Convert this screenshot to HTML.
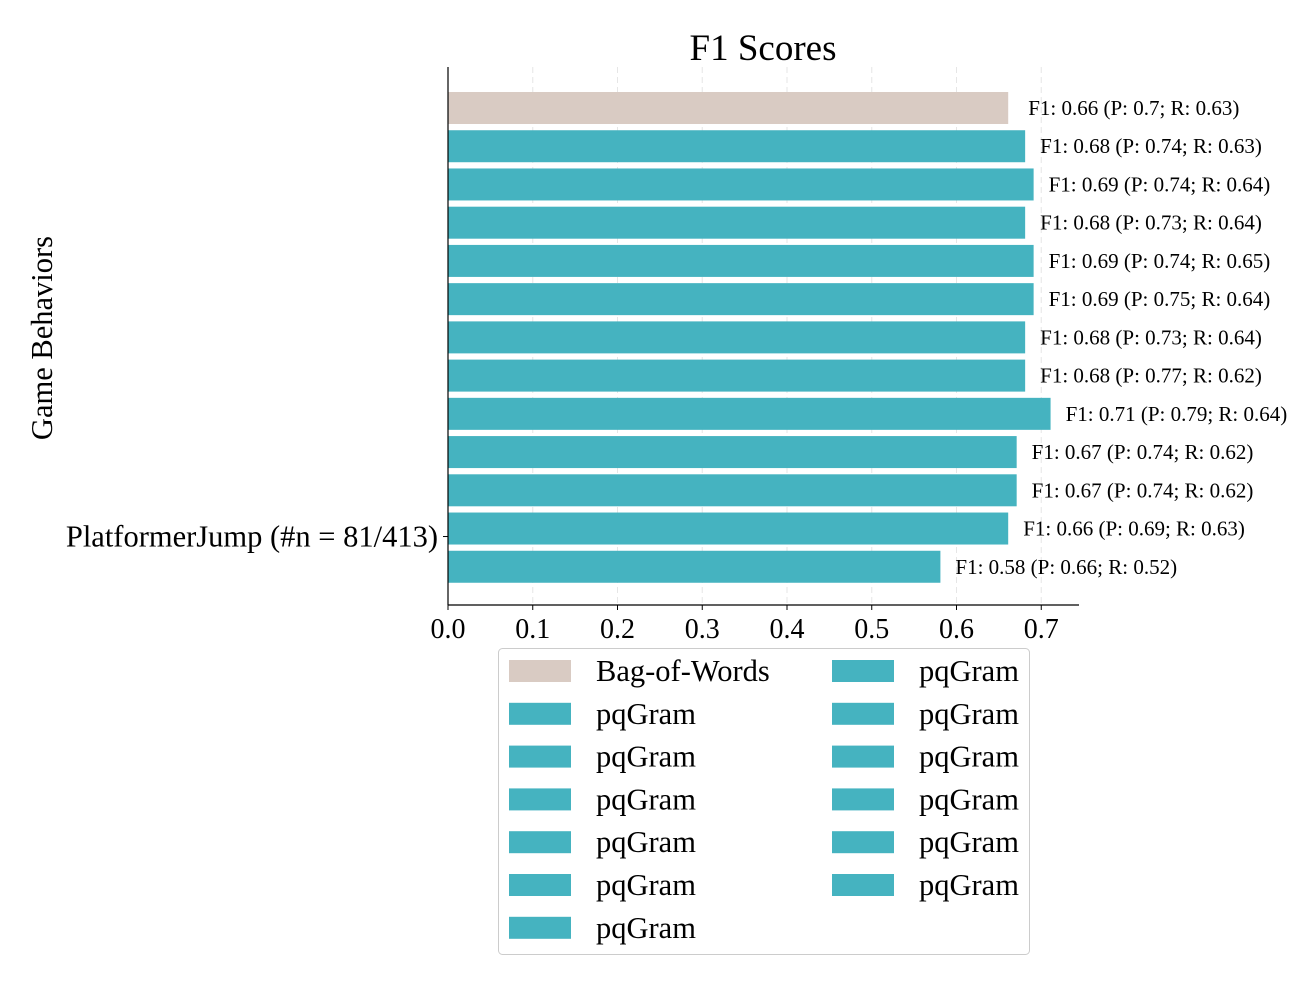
<!DOCTYPE html>
<html><head><meta charset="utf-8"><style>
body{margin:0;background:#fff;}
svg{display:block;font-family:"Liberation Serif",serif;}
</style></head><body>
<svg id="chart" width="1300" height="1000"></svg>
<script>
const categories=["Bag-of-Words","pqGram","pqGram","pqGram","pqGram","pqGram","pqGram","pqGram","pqGram","pqGram","pqGram","pqGram","pqGram"];
const f1Values=[0.661,0.681,0.691,0.681,0.691,0.691,0.681,0.681,0.711,0.671,0.671,0.661,0.581];
const barLabels=["F1: 0.66 (P: 0.7; R: 0.63)","F1: 0.68 (P: 0.74; R: 0.63)","F1: 0.69 (P: 0.74; R: 0.64)","F1: 0.68 (P: 0.73; R: 0.64)","F1: 0.69 (P: 0.74; R: 0.65)","F1: 0.69 (P: 0.75; R: 0.64)","F1: 0.68 (P: 0.73; R: 0.64)","F1: 0.68 (P: 0.77; R: 0.62)","F1: 0.71 (P: 0.79; R: 0.64)","F1: 0.67 (P: 0.74; R: 0.62)","F1: 0.67 (P: 0.74; R: 0.62)","F1: 0.66 (P: 0.69; R: 0.63)","F1: 0.58 (P: 0.66; R: 0.52)"];
const xTicks=[0,0.1,0.2,0.3,0.4,0.5,0.6,0.7];
const xTickLabels=["0.0","0.1","0.2","0.3","0.4","0.5","0.6","0.7"];
const NS="http://www.w3.org/2000/svg";
const svg=document.getElementById('chart');
const x0=448,pxPerUnit=847.5,top0=108,step=38.23,barH=32;
const xs=v=>x0+v*pxPerUnit;
const ys=i=>top0+i*step;
function mk(tag,attrs,txt){const e=document.createElementNS(NS,tag);for(const k in attrs)e.setAttribute(k,attrs[k]);if(txt!==undefined)e.textContent=txt;svg.appendChild(e);return e;}
xTicks.forEach((t,i)=>{
 const g=mk('line',{x1:xs(t),x2:xs(t),y1:67,y2:605,stroke:'#e6e6e6','stroke-dasharray':'6,4','stroke-width':1});
 
 
});
f1Values.forEach((v,i)=>{
 const r=mk('rect',{x:x0,y:ys(i)-barH/2,width:xs(v)-x0,height:barH,fill:i===0?'#d9cbc3':'#45b3c0'});
 
 
 const t=mk('text',{x:xs(v)+(i===0?20:15),y:ys(i)+7,'font-size':21,fill:'#000'},barLabels[i]);
 
 
});
const ya=mk('line',{x1:x0,x2:x0,y1:67,y2:605,stroke:'#000','stroke-width':1.2});


const xa=mk('line',{x1:x0,x2:1079,y1:605,y2:605,stroke:'#000','stroke-width':1.2});


xTicks.forEach((t,i)=>{
 mk('line',{x1:xs(t),x2:xs(t),y1:605,y2:610,stroke:'#000'});
 const l=mk('text',{x:xs(t),y:638,'font-size':28,'text-anchor':'middle'},xTickLabels[i]);
 
 
});
const tickY=ys(categories.length-2)+8;
mk('line',{x1:x0-5,x2:x0,y1:tickY,y2:tickY,stroke:'#000'});
const yt=mk('text',{x:438,y:tickY+10,'font-size':30.5,'text-anchor':'end'},'PlatformerJump (#n = 81/413)');


const tt=mk('text',{x:763,y:60,'font-size':37,'text-anchor':'middle'},'F1 Scores');


const yl=mk('text',{x:52,y:338,'font-size':30.5,'text-anchor':'middle',transform:'rotate(-90 52 338)'},'Game Behaviors');


const lb=mk('rect',{x:498.5,y:648.5,width:531,height:306,rx:4,fill:'#fff',stroke:'#ccc'});


categories.forEach((c,i)=>{
 const col=i<7?0:1,row=i<7?i:i-7;
 const lx=col?832:509,ly=671+row*42.8;
 const p=mk('rect',{x:lx,y:ly-11,width:62,height:22,fill:i===0?'#d9cbc3':'#45b3c0'});
 
 
 const t=mk('text',{x:lx+87,y:ly+10,'font-size':30.5},c);
 
 
});
</script>
</body></html>
